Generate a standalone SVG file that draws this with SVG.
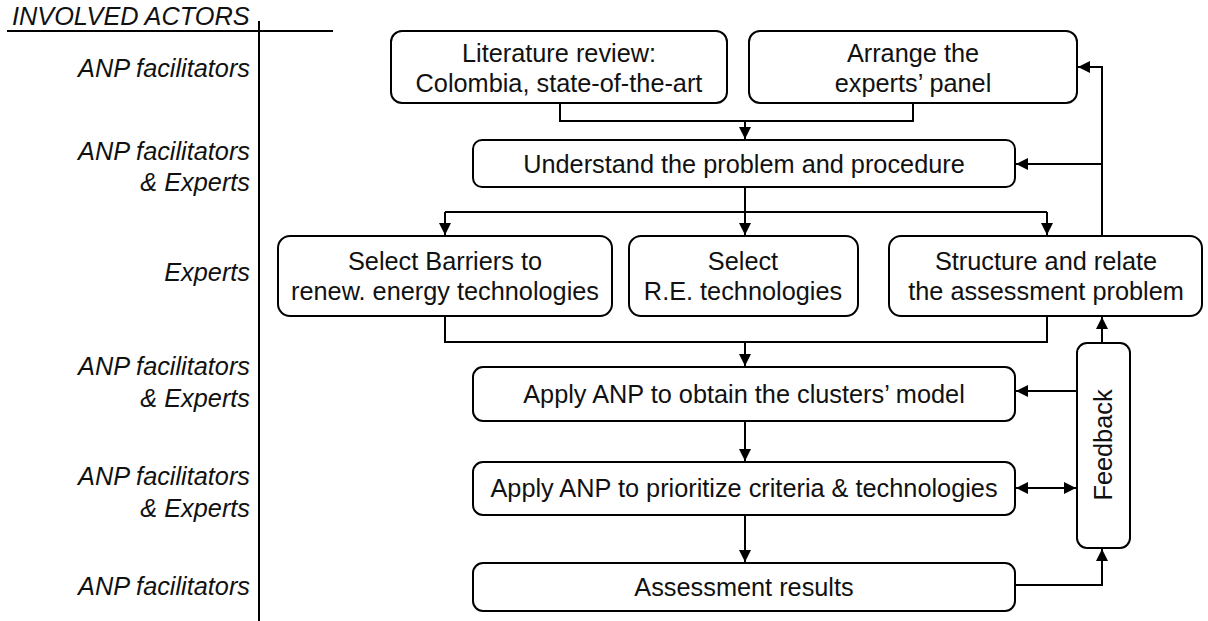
<svg xmlns="http://www.w3.org/2000/svg" width="1208" height="621" viewBox="0 0 1208 621">
<style>
.box{fill:#fff;stroke:#000;stroke-width:2}
.t{font-family:"Liberation Sans",Arial,sans-serif;font-size:25.3px;fill:#111;text-anchor:middle}
.lbl{font-family:"Liberation Sans",Arial,sans-serif;font-size:25.3px;font-style:italic;fill:#111;text-anchor:end}
.c{fill:none;stroke:#000;stroke-width:2}
</style>
<defs>
<marker id="ah" viewBox="0 0 10 10" refX="10" refY="5" markerWidth="6" markerHeight="6" markerUnits="strokeWidth" orient="auto-start-reverse">
<path d="M0,0 L10,5 L0,10 z" fill="#000"/>
</marker>
</defs>
<rect width="1208" height="621" fill="#fff"/>
<g id="actors">
<text x="12" y="25" font-family="Liberation Sans, Arial, sans-serif" font-size="25.3" font-style="italic" fill="#111">INVOLVED ACTORS</text>
<line x1="7" y1="31" x2="333" y2="31" stroke="#000" stroke-width="2"/>
<line x1="259" y1="21" x2="259" y2="621" stroke="#000" stroke-width="2"/>
<text class="lbl" x="250" y="77">ANP facilitators</text>
<text class="lbl" x="250" y="160">ANP facilitators</text>
<text class="lbl" x="250" y="191">&amp; Experts</text>
<text class="lbl" x="250" y="281">Experts</text>
<text class="lbl" x="250" y="375">ANP facilitators</text>
<text class="lbl" x="250" y="407">&amp; Experts</text>
<text class="lbl" x="250" y="485">ANP facilitators</text>
<text class="lbl" x="250" y="517">&amp; Experts</text>
<text class="lbl" x="250" y="595">ANP facilitators</text>
</g>
<g id="connectors">
<polyline class="c" points="560,103 560,121 913,121 913,103"/>
<line class="c" x1="745" y1="121" x2="745" y2="139" marker-end="url(#ah)"/>
<line class="c" x1="745" y1="187" x2="745" y2="235" marker-end="url(#ah)"/>
<line class="c" x1="445" y1="212" x2="1047" y2="212"/>
<line class="c" x1="445" y1="212" x2="445" y2="235" marker-end="url(#ah)"/>
<line class="c" x1="1047" y1="212" x2="1047" y2="235" marker-end="url(#ah)"/>
<polyline class="c" points="1102,236 1102,67 1078,67" marker-end="url(#ah)"/>
<line class="c" x1="1102" y1="164" x2="1016" y2="164" marker-end="url(#ah)"/>
<polyline class="c" points="445,316 445,342 1047,342 1047,316"/>
<line class="c" x1="745" y1="342" x2="745" y2="366" marker-end="url(#ah)"/>
<line class="c" x1="745" y1="421" x2="745" y2="461" marker-end="url(#ah)"/>
<line class="c" x1="745" y1="515" x2="745" y2="562" marker-end="url(#ah)"/>
<line class="c" x1="1077" y1="391" x2="1016" y2="391" marker-end="url(#ah)"/>
<line class="c" x1="1016" y1="488" x2="1076" y2="488" marker-start="url(#ah)" marker-end="url(#ah)"/>
<polyline class="c" points="1015,585 1102,585 1102,549" marker-end="url(#ah)"/>
<line class="c" x1="1102" y1="343" x2="1102" y2="317" marker-end="url(#ah)"/>
</g>
<g id="n-literature">
<rect class="box" x="391" y="31" width="336" height="72" rx="11"/>
<text class="t" x="559" y="62">Literature review:</text>
<text class="t" x="559" y="92">Colombia, state-of-the-art</text>
</g>
<g id="n-arrange">
<rect class="box" x="749" y="31" width="328" height="72" rx="11"/>
<text class="t" x="913" y="62">Arrange the</text>
<text class="t" x="913" y="92">experts’ panel</text>
</g>
<g id="n-understand">
<rect class="box" x="473" y="140" width="542" height="47" rx="9"/>
<text class="t" x="744" y="173">Understand the problem and procedure</text>
</g>
<g id="n-barriers">
<rect class="box" x="278" y="236" width="334" height="80" rx="12"/>
<text class="t" x="445" y="270">Select Barriers to</text>
<text class="t" x="445" y="300">renew. energy technologies</text>
</g>
<g id="n-select">
<rect class="box" x="629" y="236" width="229" height="80" rx="12"/>
<text class="t" x="743" y="270">Select</text>
<text class="t" x="743" y="300">R.E. technologies</text>
</g>
<g id="n-structure">
<rect class="box" x="889" y="236" width="313" height="80" rx="12"/>
<text class="t" x="1046" y="270">Structure and relate</text>
<text class="t" x="1046" y="300">the assessment problem</text>
</g>
<g id="n-apply-clusters">
<rect class="box" x="473" y="367" width="542" height="54" rx="10"/>
<text class="t" x="744" y="403">Apply ANP to obtain the clusters’ model</text>
</g>
<g id="n-apply-prioritize">
<rect class="box" x="473" y="462" width="542" height="53" rx="10"/>
<text class="t" x="744" y="497">Apply ANP to prioritize criteria &amp; technologies</text>
</g>
<g id="n-results">
<rect class="box" x="473" y="563" width="542" height="48" rx="10"/>
<text class="t" x="744" y="596">Assessment results</text>
</g>
<g id="n-feedback">
<rect class="box" x="1077" y="343" width="53" height="205" rx="10"/>
<text class="t" transform="translate(1112,445) rotate(-90)" x="0" y="0">Feedback</text>
</g>
</svg>
